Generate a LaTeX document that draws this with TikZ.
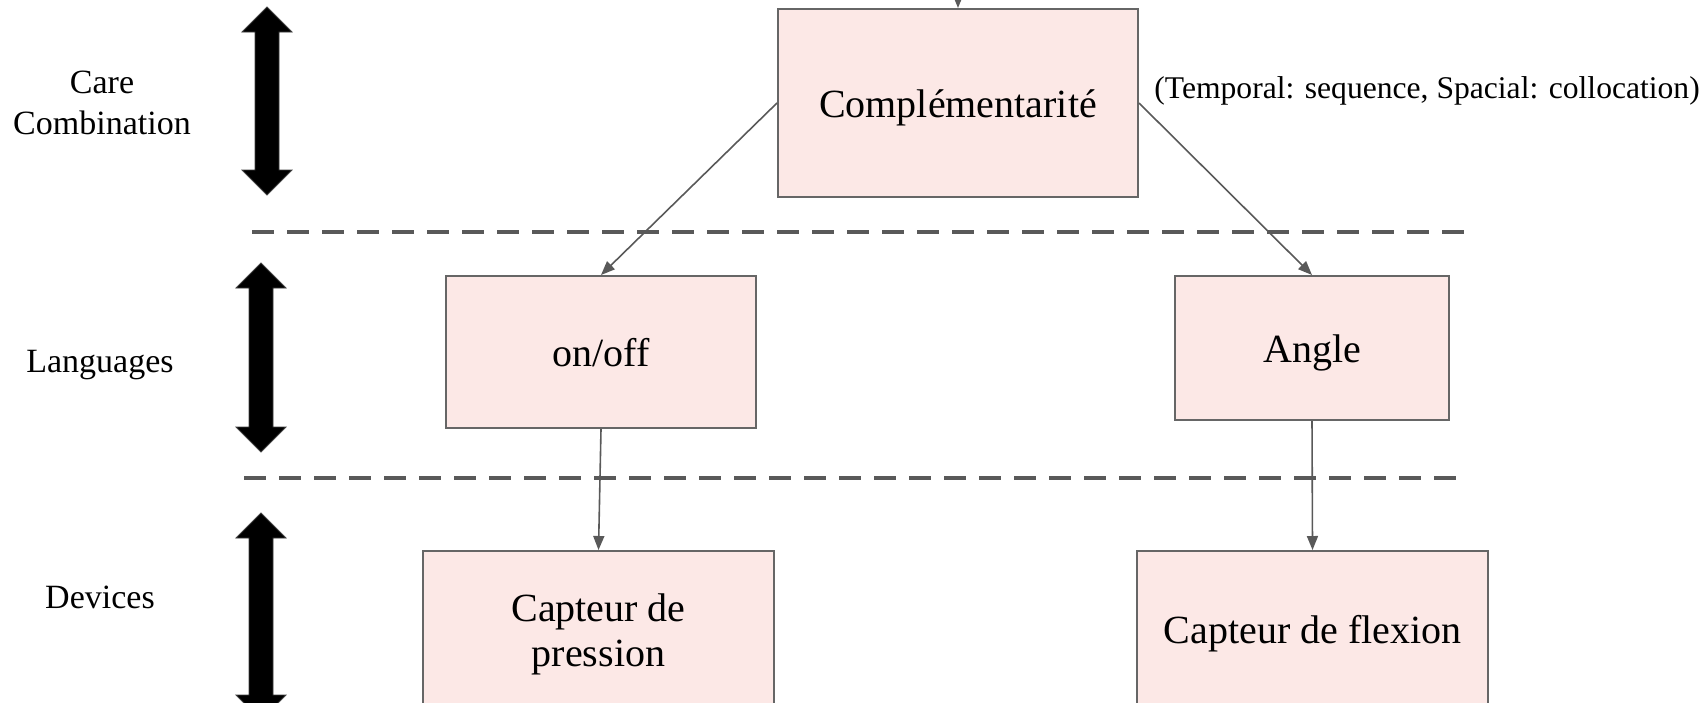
\documentclass[tikz,border=0pt]{standalone}
\usepackage{fontspec}
\setmainfont{Liberation Serif}
\usepackage{xcolor}
\usetikzlibrary{arrows.meta}
\definecolor{boxfill}{HTML}{FCE8E6}
\definecolor{boxline}{HTML}{666666}
\definecolor{linkgray}{HTML}{595959}
\newcommand{\levelarrow}[3]{%
  \draw[black!75,fill=black] (#1,#2) -- (#1+25,#2+25) -- (#1+12,#2+25) -- (#1+12,#3-25) -- (#1+25,#3-25) -- (#1,#3) -- (#1-25,#3-25) -- (#1-12,#3-25) -- (#1-12,#2+25) -- (#1-25,#2+25) -- cycle;}

\begin{document}
\begin{tikzpicture}[x=0.5pt,y=-0.5pt,
  box/.style={draw=boxline,line width=1pt,fill=boxfill,inner sep=0pt,align=center,font=\fontsize{20}{22.5}\selectfont},
  oneline/.style={box,text height=18pt,text depth=4pt},
  link/.style={draw=linkgray,line width=0.8pt,-{Triangle[length=7pt,width=5.5pt]}},
  level/.style={align=center,font=\fontsize{17}{20.5}\selectfont},
  sep/.style={draw=linkgray,line width=2pt,dash pattern=on 11pt off 6.5pt}]
            \useasboundingbox (0,0) rectangle (1706,702);
            \node[oneline,minimum width=180pt,minimum height=94pt] (comp) at (958,103) {Complémentarité};
            \node[oneline,minimum width=155pt,minimum height=76pt] (onoff) at (601,352) {on/off};
            \node[oneline,minimum width=137pt,minimum height=72pt] (angle) at (1312,348) {Angle};
            \node[box,minimum width=175.5pt,minimum height=83pt] (pression) at (598.5,634) {Capteur de\\pression};
            \node[oneline,minimum width=175.5pt,minimum height=78pt] (flexion) at (1312.5,629) {Capteur de flexion};
            \node[level] (care) at (102,103) {Care\\Combination};
            \node[level,anchor=base] (lang) at (100,372) {Languages};
            \node[level,anchor=base] (dev) at (100,608) {Devices};
            \node[anchor=base west,inner sep=0pt,font=\fontsize{15.8}{18}\selectfont] (note) at (1154,98) {(Temporal: sequence, Spacial: collocation)};
            \draw[sep] (252,232) -- (1471,232);
            \draw[sep] (244,478) -- (1461,478);
            \levelarrow{267}{7}{195}
            \levelarrow{261}{263}{452}
            \levelarrow{261}{513}{720}
            \coordinate (above) at (958,-30);
            \draw[link] (above) -- (comp.north);
            \draw[link] (comp.west) -- (onoff.north);
            \draw[link] (comp.east) -- (angle.north);
            \draw[link] (onoff.south) -- (pression.north);
            \draw[link] (angle.south) -- (flexion.north);
          \end{tikzpicture}
\end{document}
